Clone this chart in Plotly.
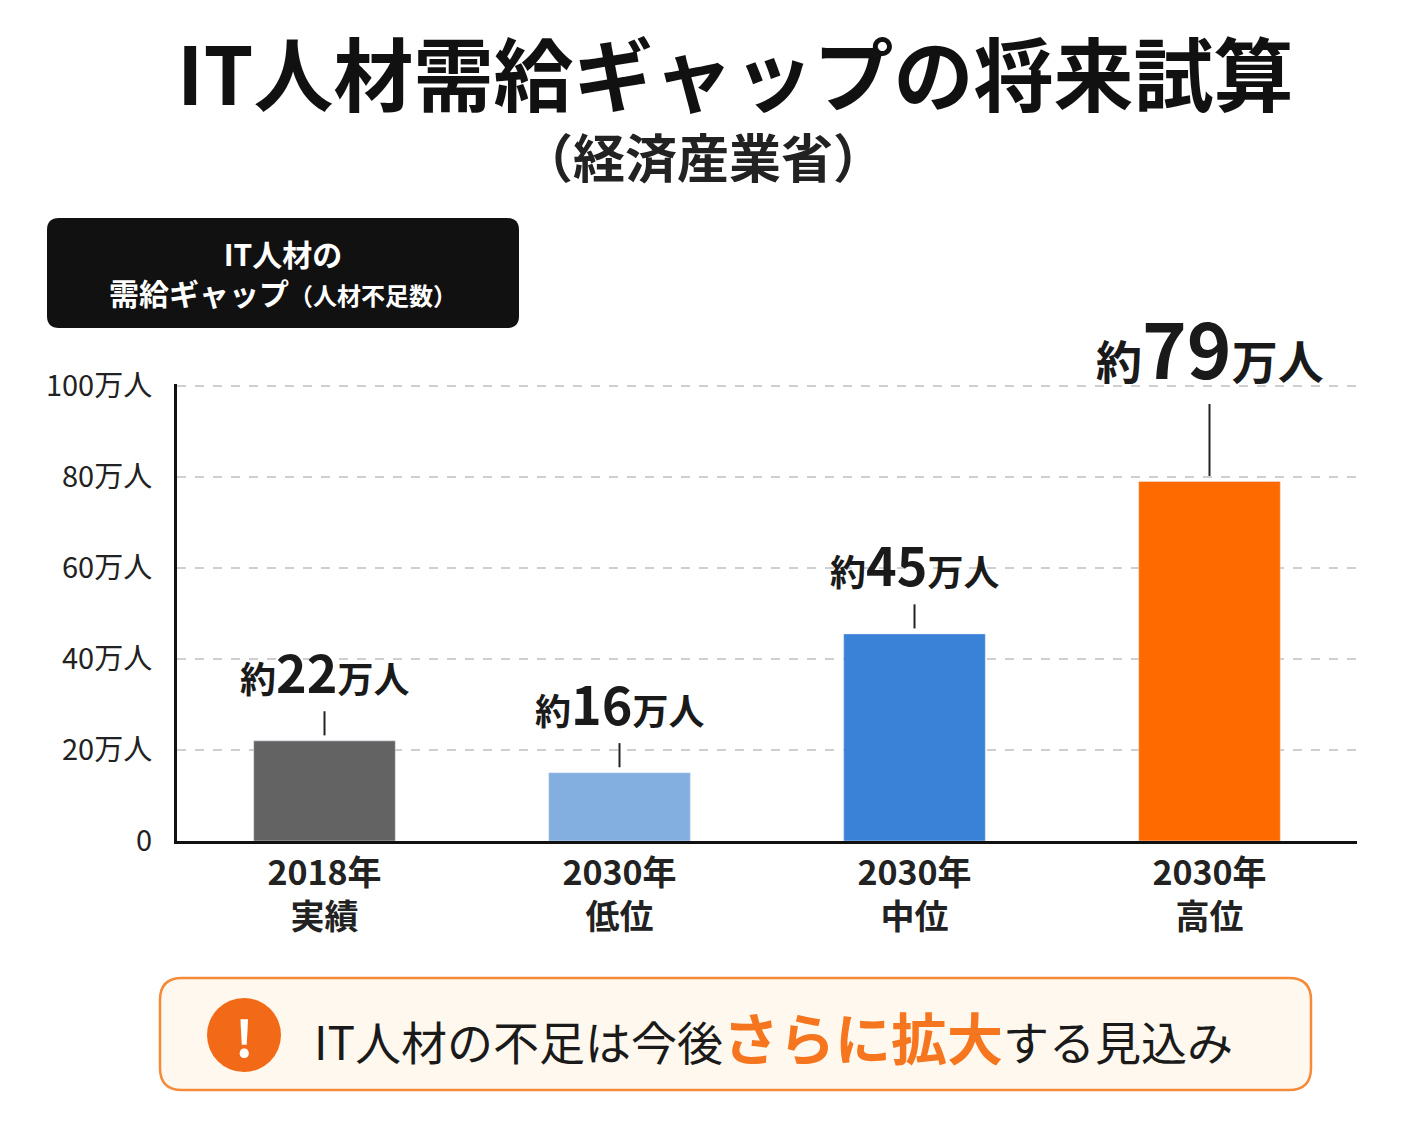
import plotly.graph_objects as go

categories = ["2018年<br>実績", "2030年<br>低位", "2030年<br>中位", "2030年<br>高位"]
values = [22, 15, 45.5, 79]
label_nums = ["22", "16", "45", "79"]
colors = ["#636363", "#82aee0", "#3a82d8", "#ff6a00"]
tick_vals = [0, 20, 40, 60, 80, 100]
tick_text = ["0", "20万人", "40万人", "60万人", "80万人", "100万人"]

F = "Noto Sans CJK JP"
fig = go.Figure(go.Bar(x=categories, y=values, marker_color=colors, width=0.48))

L, T, R, B = 177, 384, 1357, 841
def px(x): return (x - L) / (R - L)
def py(y): return (B - y) / (B - T)

def rrect(x0, y0, x1, y1, r):
    X = lambda v: f"{px(v):.5f}"
    Y = lambda v: f"{py(v):.5f}"
    return (f"M {X(x0+r)},{Y(y0)} L {X(x1-r)},{Y(y0)} Q {X(x1)},{Y(y0)} {X(x1)},{Y(y0+r)} "
            f"L {X(x1)},{Y(y1-r)} Q {X(x1)},{Y(y1)} {X(x1-r)},{Y(y1)} L {X(x0+r)},{Y(y1)} "
            f"Q {X(x0)},{Y(y1)} {X(x0)},{Y(y1-r)} L {X(x0)},{Y(y0+r)} Q {X(x0)},{Y(y0)} {X(x0+r)},{Y(y0)} Z")

shapes, annos = [], []
for i, (v, n) in enumerate(zip(values, label_nums)):
    big = i == 3
    gap = 17 if big else 6.5
    shapes.append(dict(type="line", xref="x", yref="y", x0=i, x1=i, y0=v + 1.2, y1=v + gap,
                       line=dict(color="#222", width=2)))
    ns, ss = (76, 46) if big else (52, 36)
    annos.append(dict(x=i, y=v + gap + 0.3, xref="x", yref="y", yanchor="bottom", xanchor="center", showarrow=False,
                      text=f"<b><span style='font-size:{ss}px'>約</span>{n}<span style='font-size:{ss}px'>万人</span></b>",
                      font=dict(family=F, size=ns, color="#1a1a1a")))

def pa(x, y, text, size, color="#111", xanchor="center"):
    return dict(x=px(x), y=py(y), xref="paper", yref="paper", showarrow=False, text=text,
                xanchor=xanchor, yanchor="middle", font=dict(family=F, size=size, color=color))

shapes += [
    dict(type="path", xref="paper", yref="paper", path=rrect(47, 218, 519, 328, 12),
         fillcolor="#111", line=dict(width=0)),
    dict(type="path", xref="paper", yref="paper", path=rrect(160, 978, 1311, 1090, 22),
         fillcolor="#fff8ee", line=dict(color="#f58a3a", width=2.5)),
    dict(type="circle", xref="paper", yref="paper", x0=px(207), x1=px(281), y0=py(1072), y1=py(998),
         fillcolor="#f26a18", line=dict(width=0)),
]
annos += [
    pa(735, 70, "<b>IT人材需給ギャップの将来試算</b>", 80),
    pa(703, 155, "<b>（経済産業省）</b>", 52, "#222"),
    pa(283, 273, "<b>IT人材の<br>需給ギャップ<span style='font-size:24px'>（人材不足数）</span></b>", 30, "white"),
    pa(244, 1035, "<b>!</b>", 50, "white"),
    pa(312, 1035, "IT人材の不足は今後<b><span style='color:#f5761e;font-size:56px'>さらに拡大</span></b>する見込み",
       46, "#1a1a1a", xanchor="left"),
]

fig.update_layout(
    width=1402, height=1122, plot_bgcolor="white", paper_bgcolor="white", showlegend=False,
    margin=dict(l=L - 8, r=1402 - R + 8, t=T - 8, b=1122 - B + 8),
    shapes=shapes, annotations=annos,
    xaxis=dict(showline=True, linecolor="#111", linewidth=3, tickfont=dict(family=F, size=34, color="#222"),
               ticks="", range=[-0.5, 3.5], tickprefix="<b>", ticksuffix="</b>"),
    yaxis=dict(range=[0, 100.4], tickvals=tick_vals, ticktext=tick_text, showline=True, linecolor="#111",
               linewidth=3, gridcolor="#cfcfcf", griddash="dash", gridwidth=1.5, ticklabelstandoff=16,
               tickfont=dict(family=F, size=29, color="#222"), ticks="", zeroline=False),
)
fig.write_html("out.html")
